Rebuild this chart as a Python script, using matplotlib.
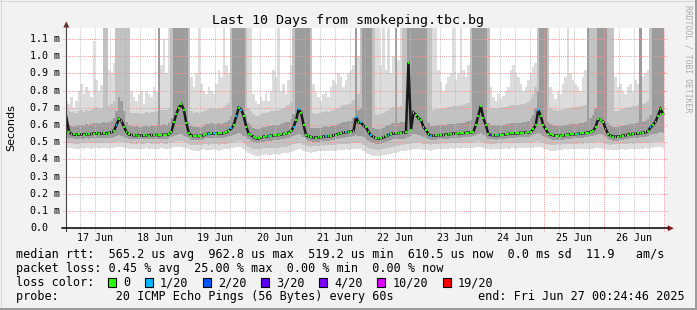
import numpy as np
import matplotlib
matplotlib.use("Agg")
import matplotlib.pyplot as plt
from matplotlib.transforms import Affine2D, blended_transform_factory
from matplotlib.patches import Rectangle, Polygon
from matplotlib.lines import Line2D

# ---------------- data (hourly, from Jun 17 00:00) ----------------
day_labels = ["17 Jun", "18 Jun", "19 Jun", "20 Jun", "21 Jun",
              "22 Jun", "23 Jun", "24 Jun", "25 Jun", "26 Jun"]
y_ticks = [0.0, 0.1, 0.2, 0.3, 0.4, 0.5, 0.6, 0.7, 0.8, 0.9, 1.0, 1.1]
y_tick_labels = ["0.0", "0.1 m", "0.2 m", "0.3 m", "0.4 m", "0.5 m", "0.6 m",
                 "0.7 m", "0.8 m", "0.9 m", "1.0 m", "1.1 m"]

median_rtt = [
    0.640,0.560,0.548,0.545,0.543,0.545,0.546,0.544,0.547,0.546,0.548,0.550,0.552,0.549,0.551,0.553,0.550,0.555,0.558,0.566,0.600,0.636,0.625,0.590,
    0.560,0.545,0.543,0.540,0.541,0.539,0.538,0.540,0.541,0.539,0.542,0.541,0.543,0.540,0.542,0.544,0.543,0.546,0.560,0.615,0.665,0.700,0.720,0.690,
    0.610,0.555,0.538,0.536,0.537,0.535,0.538,0.540,0.548,0.550,0.552,0.551,0.550,0.552,0.551,0.553,0.558,0.565,0.580,0.600,0.650,0.700,0.690,0.653,
    0.590,0.550,0.540,0.530,0.522,0.522,0.528,0.532,0.534,0.536,0.538,0.540,0.541,0.542,0.545,0.548,0.552,0.556,0.565,0.590,0.630,0.692,0.670,0.600,
    0.540,0.535,0.530,0.528,0.527,0.528,0.530,0.532,0.535,0.534,0.536,0.540,0.544,0.548,0.553,0.557,0.558,0.560,0.562,0.566,0.645,0.615,0.615,0.595,
    0.586,0.560,0.540,0.530,0.524,0.522,0.523,0.528,0.535,0.542,0.548,0.551,0.552,0.553,0.555,0.556,0.557,0.962,0.570,0.672,0.660,0.640,0.630,0.590,
    0.570,0.548,0.538,0.537,0.540,0.541,0.541,0.542,0.544,0.546,0.548,0.550,0.550,0.551,0.552,0.553,0.555,0.556,0.557,0.560,0.600,0.655,0.711,0.640,
    0.600,0.547,0.542,0.541,0.540,0.541,0.542,0.544,0.546,0.548,0.551,0.552,0.551,0.553,0.554,0.555,0.556,0.557,0.560,0.575,0.600,0.688,0.653,0.600,
    0.575,0.550,0.545,0.540,0.538,0.537,0.538,0.540,0.542,0.544,0.546,0.547,0.547,0.549,0.551,0.552,0.554,0.556,0.560,0.566,0.590,0.634,0.630,0.620,
    0.578,0.547,0.538,0.533,0.532,0.533,0.535,0.538,0.541,0.544,0.547,0.548,0.549,0.551,0.553,0.555,0.557,0.565,0.586,0.600,0.620,0.655,0.692,0.665,
]

lost_pings = [
    0,0,0,0,0,0,0,0,0,0,0,0,0,0,0,0,0,0,0,0,1,0,0,0,
    0,0,0,0,0,0,0,0,0,0,0,0,0,0,0,0,0,0,0,0,0,0,0,0,
    0,0,0,0,0,0,0,0,0,1,0,1,0,0,0,0,0,0,1,0,1,0,1,0,
    0,0,0,0,0,0,0,0,0,1,0,0,0,0,0,0,0,0,0,1,0,1,0,0,
    0,0,0,0,0,0,0,0,1,0,0,0,0,0,0,0,1,0,0,0,1,0,1,0,
    0,0,1,0,0,0,0,0,0,1,0,0,0,0,0,0,0,0,0,0,0,0,0,0,
    0,0,1,0,0,0,0,0,0,0,0,0,0,0,0,0,0,0,0,0,0,0,0,0,
    0,0,5,0,0,1,0,0,0,0,0,0,0,0,0,0,0,0,0,0,0,1,0,0,
    0,0,0,0,0,0,0,0,0,0,0,0,0,1,0,0,0,0,0,0,0,0,0,0,
    1,0,0,0,0,0,0,0,0,0,0,0,0,0,0,0,0,0,1,0,0,0,0,0,
]

ping_min = [
    .470,.468,.465,.462,.460,.462,.465,.463,.466,.464,.462,.465,.467,.463,.465,.468,.466,.462,.465,.468,.470,.472,.470,.468,
    .465,.462,.460,.458,.461,.463,.460,.462,.465,.463,.460,.462,.458,.461,.464,.462,.460,.463,.466,.470,.472,.474,.470,.468,
    .465,.460,.455,.452,.450,.452,.455,.458,.455,.453,.456,.458,.455,.452,.456,.458,.460,.462,.465,.468,.470,.472,.470,.460,
    .450,.440,.432,.425,.420,.422,.425,.428,.430,.426,.428,.432,.430,.428,.432,.435,.438,.440,.445,.450,.455,.460,.458,.450,
    .445,.442,.440,.442,.445,.448,.450,.447,.450,.452,.450,.448,.452,.455,.453,.456,.458,.455,.458,.460,.462,.460,.458,.450,
    .440,.430,.425,.420,.418,.420,.422,.425,.428,.430,.432,.435,.440,.445,.448,.450,.452,.455,.455,.458,.460,.462,.460,.455,
    .458,.455,.452,.455,.458,.460,.458,.462,.460,.463,.465,.462,.464,.466,.463,.465,.468,.466,.465,.468,.470,.472,.470,.465,
    .462,.458,.456,.458,.460,.462,.460,.463,.465,.462,.464,.466,.463,.465,.467,.464,.466,.468,.466,.468,.470,.472,.470,.465,
    .460,.456,.452,.450,.452,.455,.453,.456,.458,.455,.458,.460,.458,.460,.462,.459,.461,.463,.460,.463,.466,.468,.466,.462,
    .460,.456,.453,.455,.457,.455,.458,.460,.457,.460,.462,.459,.461,.463,.460,.462,.464,.462,.465,.467,.470,.472,.470,.468,
]

ping_lo = [
    .498,.496,.494,.492,.491,.492,.494,.493,.495,.494,.493,.495,.497,.494,.495,.497,.496,.494,.496,.499,.502,.505,.503,.500,
    .496,.493,.491,.489,.491,.493,.490,.492,.494,.493,.490,.492,.489,.491,.494,.492,.490,.493,.497,.502,.506,.510,.506,.502,
    .496,.490,.486,.484,.482,.484,.486,.489,.487,.485,.488,.490,.487,.485,.488,.490,.492,.494,.497,.500,.504,.508,.505,.495,
    .485,.475,.468,.462,.458,.459,.462,.465,.467,.464,.466,.469,.468,.466,.470,.472,.475,.478,.482,.487,.492,.497,.494,.486,
    .480,.477,.475,.477,.479,.481,.483,.481,.483,.485,.484,.482,.486,.488,.487,.490,.492,.490,.493,.495,.498,.496,.494,.486,
    .478,.468,.462,.458,.456,.457,.459,.462,.465,.468,.470,.473,.477,.481,.484,.486,.488,.490,.492,.495,.497,.499,.497,.490,
    .490,.487,.485,.487,.489,.491,.490,.493,.492,.494,.496,.494,.495,.497,.495,.497,.499,.497,.497,.500,.503,.506,.504,.498,
    .494,.490,.489,.490,.492,.493,.492,.494,.496,.494,.495,.497,.495,.497,.498,.496,.498,.499,.498,.500,.503,.506,.504,.498,
    .492,.488,.485,.484,.485,.487,.486,.488,.490,.488,.490,.492,.490,.492,.494,.491,.493,.495,.493,.496,.499,.502,.500,.495,
    .492,.488,.486,.487,.489,.488,.490,.492,.490,.492,.494,.492,.493,.495,.493,.495,.497,.495,.498,.500,.503,.506,.504,.501,
]

ping_lo2 = [
    .525,.523,.522,.520,.519,.520,.521,.520,.522,.521,.522,.524,.525,.523,.524,.526,.524,.525,.527,.530,.535,.540,.538,.530,
    .526,.521,.519,.517,.518,.517,.516,.517,.518,.517,.519,.518,.519,.517,.519,.521,.520,.522,.528,.535,.542,.548,.545,.538,
    .530,.522,.515,.513,.514,.512,.514,.516,.522,.524,.526,.525,.524,.526,.525,.527,.530,.534,.538,.542,.548,.552,.548,.538,
    .528,.518,.510,.502,.496,.496,.500,.504,.506,.508,.510,.512,.513,.514,.517,.520,.523,.526,.530,.536,.542,.548,.544,.530,
    .516,.510,.506,.504,.503,.504,.506,.508,.510,.509,.511,.514,.517,.520,.524,.527,.528,.530,.532,.535,.540,.538,.536,.528,
    .520,.510,.502,.496,.492,.491,.492,.496,.502,.508,.513,.516,.517,.518,.520,.521,.522,.530,.535,.545,.545,.540,.536,.528,
    .525,.520,.514,.513,.515,.516,.516,.517,.519,.521,.523,.525,.525,.526,.527,.528,.530,.531,.532,.535,.542,.550,.555,.540,
    .530,.520,.517,.516,.515,.516,.517,.519,.521,.523,.526,.527,.526,.528,.529,.530,.531,.532,.534,.540,.546,.555,.550,.536,
    .528,.522,.519,.515,.513,.512,.513,.515,.517,.519,.521,.522,.522,.524,.526,.527,.529,.531,.534,.538,.544,.550,.548,.540,
    .530,.520,.514,.510,.508,.509,.511,.514,.516,.519,.522,.523,.524,.526,.528,.530,.532,.536,.542,.546,.550,.555,.560,.552,
]

ping_hi2 = [
    .660,.600,.595,.590,.592,.598,.602,.596,.604,.600,.605,.610,.612,.606,.610,.615,.612,.618,.625,.640,.680,.760,.740,.680,
    .620,.598,.594,.590,.592,.590,.588,.592,.594,.590,.596,.594,.598,1.3,.600,.604,.602,.610,.640,1.3,1.3,1.3,1.3,1.3,
    1.3,.610,.592,.588,.590,.586,.590,.594,.604,.608,.610,.608,.606,.610,.608,.612,.620,.630,.650,1.3,1.3,1.3,1.3,1.3,
    .660,.610,.595,.585,.578,.578,.584,.588,.590,.594,.596,.598,.600,.602,.606,.610,.615,.620,.635,.665,1.3,1.3,1.3,1.3,
    1.3,1.3,.585,.582,.580,.582,.585,.588,.592,.590,.594,.598,.602,.606,.612,.616,.618,.622,.626,.640,1.3,.690,.700,1.3,
    1.3,1.3,1.3,.585,.578,.576,.578,.584,.592,.600,.606,.610,1.3,.612,.615,.618,.625,1.3,1.3,1.3,1.3,1.3,1.3,1.3,
    1.3,.610,.595,.594,.596,.598,.598,.600,.602,.604,.606,.608,.608,.610,.612,.614,.618,.622,.628,1.3,1.3,1.3,1.3,1.3,
    1.3,.610,.600,.598,.596,.598,.600,.602,.604,.606,.610,.612,.610,.612,.614,.616,.620,.625,.640,.660,.700,.800,1.3,1.3,
    1.3,.615,.605,.598,.594,.592,.594,.596,.600,.602,.605,.606,.606,.608,.610,.612,.616,1.3,.640,.660,.700,1.3,1.3,1.3,
    1.3,.612,.598,.590,.588,.590,.592,.596,.600,.603,.606,.608,.610,.612,1.3,.616,.622,.635,.660,1.3,1.3,1.3,1.3,1.3,
]

ping_hi = [
    .720,.680,.675,.670,.672,.680,.685,.678,.690,.684,.688,.700,.705,.695,.700,1.3,1.3,.710,.720,.740,1.3,1.3,1.3,1.3,
    1.3,1.3,.672,.668,.670,.668,.665,.670,.675,.668,.676,.674,.680,1.3,.685,.690,.688,.700,1.3,1.3,1.3,1.3,1.3,1.3,
    1.3,1.3,.680,.672,.674,.670,.674,.680,.690,.694,.698,.695,.692,.698,.695,.702,.715,.730,1.3,1.3,1.3,1.3,1.3,1.3,
    1.3,.700,.680,.665,.655,.655,.662,.668,.672,.676,.680,.684,.686,.690,.695,.700,.708,.715,.735,1.3,1.3,1.3,1.3,1.3,
    1.3,1.3,1.3,.668,.665,.668,.672,.676,.680,.678,.684,.690,.695,.700,.708,.714,.718,.722,.728,.745,1.3,.780,1.3,1.3,
    1.3,1.3,1.3,1.3,.662,.658,.662,.670,.680,.690,.698,.702,1.3,.705,.710,1.3,1.3,1.3,1.3,1.3,1.3,1.3,1.3,1.3,
    1.3,1.3,1.3,.690,.692,.695,.695,.698,.700,.704,.706,.710,.710,.712,.715,.718,.725,.730,1.3,1.3,1.3,1.3,1.3,1.3,
    1.3,1.3,.700,.698,.695,.698,.700,.704,.706,.710,.714,.716,.714,.716,.720,.722,.728,.735,.750,.780,.820,1.3,1.3,1.3,
    1.3,1.3,.700,.690,.685,.682,.685,.688,.692,.695,.700,.702,.702,.705,.708,.712,.718,1.3,1.3,1.3,1.3,1.3,1.3,1.3,
    1.3,1.3,1.3,1.3,.680,.684,.688,.692,.698,.702,.706,.708,.710,.714,1.3,.720,.728,.740,1.3,1.3,1.3,1.3,1.3,1.3,
]

ping_max = [
    .740,.720,.760,.700,.740,.800,.840,.780,.820,.800,.760,1.09,.860,.800,.830,1.3,1.3,.920,.900,.960,1.3,1.3,1.3,1.3,
    1.3,1.3,.800,.760,.740,.780,.800,.720,.800,.780,.760,.820,.790,1.3,.950,1.10,.900,1.3,1.3,1.3,1.3,1.3,1.3,1.3,
    1.3,1.3,.880,.820,.900,1.3,.840,.800,.780,.820,.800,.780,.840,.920,.880,1.3,.950,.900,1.3,1.3,1.3,1.3,1.3,1.3,
    1.3,1.3,1.3,.780,.740,.720,.760,.740,.780,.740,.800,.920,.880,1.3,.800,.840,.780,.860,.950,1.3,1.3,1.3,1.3,1.3,
    1.3,1.3,1.3,.840,.800,.760,.740,.780,.800,.760,.820,.860,.840,.900,.880,.820,.860,.900,.920,.950,1.3,1.0,1.3,1.3,
    1.3,1.3,1.3,1.3,1.3,1.3,.950,1.3,.920,1.3,.900,1.0,1.3,.980,1.3,1.3,1.3,1.3,1.3,1.3,1.3,1.3,1.3,1.3,
    1.3,1.3,1.3,1.3,1.3,.920,.850,.800,.840,.880,.900,1.3,.860,.900,1.3,.920,.880,.950,1.3,1.3,1.3,1.3,1.3,1.3,
    1.3,1.3,.820,.760,.740,.780,.750,.770,.800,.820,.920,.950,.900,.880,.840,.800,.820,.860,.900,.940,.960,1.3,1.3,1.3,
    1.3,1.3,.820,.780,.750,.800,.780,.840,.880,1.3,.900,.860,.840,.820,.800,.880,.920,1.3,1.3,1.3,1.3,1.3,1.3,1.3,
    1.3,1.3,1.3,1.3,.880,.820,.840,.800,.780,.820,.840,.800,.860,.840,1.3,.880,.900,.920,1.3,1.3,1.3,1.3,1.3,1.3,
]

loss_thresholds = [0, 1, 2, 3, 4, 10, 19]
loss_labels = ["0", "1/20", "2/20", "3/20", "4/20", "10/20", "19/20"]
loss_colors = ["#26ff00", "#00b8ff", "#0059ff", "#5e00ff", "#7e00ff", "#dd00ff", "#ff0000"]

title = "Last 10 Days from smokeping.tbc.bg"
row_rtt = "median rtt:  565.2 us avg  962.8 us max  519.2 us min  610.5 us now  0.0 ms sd  11.9   am/s"
row_loss = "packet loss: 0.45 % avg  25.00 % max  0.00 % min  0.00 % now"
row_probe = "probe:        20 ICMP Echo Pings (56 Bytes) every 60s"
row_end = "end: Fri Jun 27 00:24:46 2025"

for arr in (median_rtt, lost_pings, ping_min, ping_lo, ping_lo2, ping_hi2, ping_hi, ping_max):
    assert len(arr) == 240, len(arr)

# ---------------- figure ----------------
W, H, DPI = 697, 310, 100
MONO = "DejaVu Sans Mono"
fig = plt.figure(figsize=(W / DPI, H / DPI), dpi=DPI, facecolor="#f2f2f2")
pixT = Affine2D().scale(1, -1).translate(0, H)  # pixel coords, origin top-left

L, R, T, B = 66.3, 665.3, 28.3, 228.3
YMAX = 1.162
X0, X1 = 0.41, 240.41
ax = fig.add_axes([L / W, 1 - B / H, (R - L) / W, (B - T) / H])
ax.set_facecolor("white")
ax.set_xlim(X0, X1)
ax.set_ylim(0, YMAX)
for s in ax.spines.values():
    s.set_visible(False)
ax.set_xticks([])
ax.set_yticks([])

n = len(median_rtt)
edges = np.arange(n + 1)
def ext(a):
    a = np.asarray(a, float)
    return np.append(a, a[-1])

# smoke
ax.fill_between(edges, ext(ping_min), ext(ping_max), step="post", color="#dcdcdc", lw=0, zorder=1)
ax.fill_between(edges, ext(ping_lo), ext(ping_hi), step="post", color="#c2c2c2", lw=0, zorder=1.1)
ax.fill_between(edges, ext(ping_lo2), ext(ping_hi2), step="post", color="#9c9c9c", lw=0, zorder=1.2)

# grid (1 px dots, 1 px gaps)
px_h = (X1 - X0) / (R - L)      # hours per pixel
px_y = YMAX / (B - T)           # value per pixel
dot = (0, (1, 1.2))
for h in range(6, 241, 6):
    if h % 24:
        ax.vlines(h, -3 * px_y, YMAX, colors="#c0c0c0", lw=0.72, linestyles=dot,
                  zorder=2, clip_on=False)
for h in range(24, 241, 24):
    ax.vlines(h, -3 * px_y, YMAX, colors="#f29595", lw=0.72, linestyles=dot,
              zorder=2.1, clip_on=False)
ax.hlines(y_ticks[1:], X0 - 3 * px_h, X1 + 3 * px_h, colors="#f29595", lw=0.72,
          linestyles=dot, zorder=2.1, clip_on=False)

# median line
centers = edges[:-1] + 0.5
ax.plot(centers, median_rtt, color="#1a1a1a", lw=1.8, zorder=3, solid_joinstyle="miter")
def loss_color(k):
    c = loss_colors[0]
    for th, col in zip(loss_thresholds, loss_colors):
        if k >= th:
            c = col
    return c
seg_colors = [loss_color(k) for k in lost_pings]
ax.hlines(median_rtt, edges[:-1] + 0.15, edges[1:] - 0.15, colors=seg_colors, lw=1.5, zorder=4)

# axes lines and arrows (pixel coordinates)
fig.add_artist(Line2D([L, L], [B + 3, 24], transform=pixT, color="#444444", lw=0.8))
fig.add_artist(Line2D([L - 4, R + 3], [B, B], transform=pixT, color="#000000", lw=1.1))
fig.add_artist(Polygon([[L - 3, 27.5], [L + 3, 27.5], [L, 21.5]], closed=True,
                       transform=pixT, color="#8b1a1a", lw=0))
fig.add_artist(Polygon([[R + 2.5, B - 3], [R + 2.5, B + 3], [R + 8.5, B]], closed=True,
                       transform=pixT, color="#8b1a1a", lw=0))

# tick labels
ytr = blended_transform_factory(pixT, ax.transData)
for v, lab in zip(y_ticks, y_tick_labels):
    ax.text(30.5, v, lab, transform=ytr, ha="left", va="center", family=MONO,
            fontsize=7.2, color="#000000", clip_on=False)
xtr = blended_transform_factory(ax.transData, pixT)
for i, lab in enumerate(day_labels):
    ax.text(12 + 24 * i, 240.7, lab, transform=xtr, ha="center", va="baseline",
            family=MONO, fontsize=7.2, color="#000000", clip_on=False)

# title, axis label, watermark
fig.text(347.6 / W, 1 - 24 / H, title, ha="center", va="baseline", family=MONO, fontsize=9.6)
fig.text(11 / W, 1 - 127.5 / H, "Seconds", ha="center", va="center", rotation=90,
         family="DejaVu Sans", fontsize=8)
fig.text(688 / W, 1 - 59 / H, "RRDTOOL / TOBI OETIKER", ha="center", va="center",
         rotation=270, family=MONO, fontsize=5.9, color="#ababab")

# legend rows
CW = 7.1
fig.text(16 / W, 1 - 258.3 / H, row_rtt, ha="left", va="baseline", family=MONO, fontsize=8.5)
fig.text(16 / W, 1 - 272.3 / H, row_loss, ha="left", va="baseline", family=MONO, fontsize=8.5)
fig.text(16 / W, 1 - 286.3 / H, "loss color:", ha="left", va="baseline", family=MONO, fontsize=8.5)
fig.text(16 / W, 1 - 300 / H, row_probe, ha="left", va="baseline", family=MONO, fontsize=8.5)
fig.text(478 / W, 1 - 300 / H, row_end, ha="left", va="baseline", family=MONO, fontsize=8.5)

bx = 108.3
for lab, col in zip(loss_labels, loss_colors):
    fig.add_artist(Rectangle((bx, 278), 8, 8.5, transform=pixT, facecolor=col,
                             edgecolor="#000000", lw=0.8))
    tx = bx + 15
    fig.text(tx / W, 1 - 286.3 / H, lab, ha="left", va="baseline", family=MONO, fontsize=8.5)
    bx = tx + len(lab) * CW + 14.7

# frame
fig.add_artist(Line2D([0, W], [0.5, 0.5], transform=pixT, color="#d6d6d6", lw=0.72))
fig.add_artist(Line2D([0.5, 0.5], [0, H], transform=pixT, color="#d6d6d6", lw=0.72))
fig.add_artist(Line2D([0, W], [H - 1, H - 1], transform=pixT, color="#9c9c9c", lw=1.44))
fig.add_artist(Line2D([W - 1, W - 1], [0, H], transform=pixT, color="#9c9c9c", lw=1.44))

fig.savefig("out.png", dpi=DPI, facecolor=fig.get_facecolor())
